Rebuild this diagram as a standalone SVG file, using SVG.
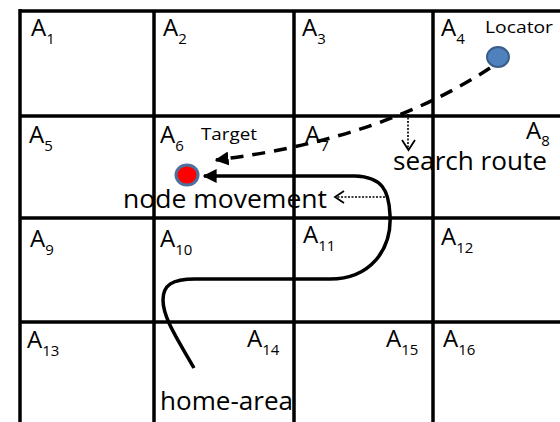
<svg xmlns="http://www.w3.org/2000/svg" width="560" height="422" viewBox="0 0 560 422">
<style>
.grid{stroke:#000;stroke-width:3.5;fill:none}
.lbl{font-family:"Open Sans","Liberation Sans",sans-serif;font-size:24px;fill:#000}
.big{font-family:"Open Sans","Liberation Sans",sans-serif;font-size:25px;fill:#000}
.sub{font-size:15px}
.small{font-family:"Open Sans","Liberation Sans",sans-serif;font-size:16px;fill:#000}
.dash{stroke:#000;stroke-width:3.5;fill:none;stroke-dasharray:13 9}
.dot{stroke:#000;stroke-width:1.6;fill:none;stroke-dasharray:2 1.5}
.solid{stroke:#000;stroke-width:3.5;fill:none}
.vhead{stroke:#000;stroke-width:1.8;fill:none}
</style>
<defs>
<marker id="ah" viewBox="0 0 10 10" refX="9" refY="5" markerWidth="4" markerHeight="4" orient="auto" markerUnits="strokeWidth">
<path d="M0,0 L10,5 L0,10 Z" fill="#000"/>
</marker>
</defs>
<rect width="560" height="422" fill="#fff"/>
<g id="grid">
<line class="grid" x1="20" y1="11" x2="560" y2="11" stroke-width="4"/>
<line class="grid" x1="20" y1="116" x2="560" y2="116"/>
<line class="grid" x1="20" y1="218" x2="560" y2="218"/>
<line class="grid" x1="20" y1="322" x2="560" y2="322"/>
<line class="grid" x1="20" y1="9" x2="20" y2="422" stroke-width="4"/>
<line class="grid" x1="154" y1="11" x2="154" y2="422"/>
<line class="grid" x1="294" y1="11" x2="294" y2="422"/>
<line class="grid" x1="433" y1="11" x2="433" y2="422"/>
</g>
<g id="labels">
<text class="lbl" x="31" y="36">A<tspan class="sub" dy="8">1</tspan></text>
<text class="lbl" x="163" y="36">A<tspan class="sub" dy="8">2</tspan></text>
<text class="lbl" x="302" y="36">A<tspan class="sub" dy="8">3</tspan></text>
<text class="lbl" x="441" y="36">A<tspan class="sub" dy="8">4</tspan></text>
<text class="lbl" x="29" y="143">A<tspan class="sub" dy="8">5</tspan></text>
<text class="lbl" x="160" y="143">A<tspan class="sub" dy="8">6</tspan></text>
<text class="lbl" x="305" y="143">A<tspan class="sub" dy="8">7</tspan></text>
<text class="lbl" x="526" y="139">A<tspan class="sub" dy="7">8</tspan></text>
<text class="lbl" x="30" y="247">A<tspan class="sub" dy="8">9</tspan></text>
<text class="lbl" x="160" y="247">A<tspan class="sub" dy="8">10</tspan></text>
<text class="lbl" x="303" y="243">A<tspan class="sub" dy="8">11</tspan></text>
<text class="lbl" x="441" y="245">A<tspan class="sub" dy="8">12</tspan></text>
<text class="lbl" x="27" y="348">A<tspan class="sub" dy="8">13</tspan></text>
<text class="lbl" x="247" y="347">A<tspan class="sub" dy="8">14</tspan></text>
<text class="lbl" x="386" y="347">A<tspan class="sub" dy="8">15</tspan></text>
<text class="lbl" x="443" y="347">A<tspan class="sub" dy="8">16</tspan></text>
</g>
<g id="connectors">
<path class="dash" d="M490,68 Q380,140 216,160" marker-end="url(#ah)"/>
<path class="solid" d="M194,368 C178,340 163,318 163,300 C163,285 172,279 195,279 L330,279 C370,279 392,250 390,215 C389,190 382,177 355,176 L204,176" marker-end="url(#ah)"/>
<path class="dot" d="M408,114 L408,149"/>
<polyline class="vhead" points="402,140 408.5,150 415,140"/>
<path class="dot" d="M385,197 L337,197"/>
<polyline class="vhead" points="344,191 335,197 344,203"/>
</g>
<g id="locator">
<ellipse cx="498" cy="57" rx="11" ry="10" fill="#4f81bd" stroke="#385d8a" stroke-width="2"/>
<text class="small" x="485" y="33" textLength="68" lengthAdjust="spacingAndGlyphs">Locator</text>
</g>
<g id="target">
<ellipse cx="187" cy="175" rx="11" ry="10" fill="#ff0000" stroke="#4f6f9c" stroke-width="3"/>
<text class="small" x="201" y="140" textLength="56" lengthAdjust="spacingAndGlyphs">Target</text>
</g>
<g id="texts">
<text class="big" x="393" y="170" textLength="154" lengthAdjust="spacingAndGlyphs">search route</text>
<text class="big" x="123" y="208" textLength="204" lengthAdjust="spacingAndGlyphs">node movement</text>
<text class="big" x="160" y="410" textLength="133" lengthAdjust="spacingAndGlyphs">home-area</text>
</g>
</svg>
